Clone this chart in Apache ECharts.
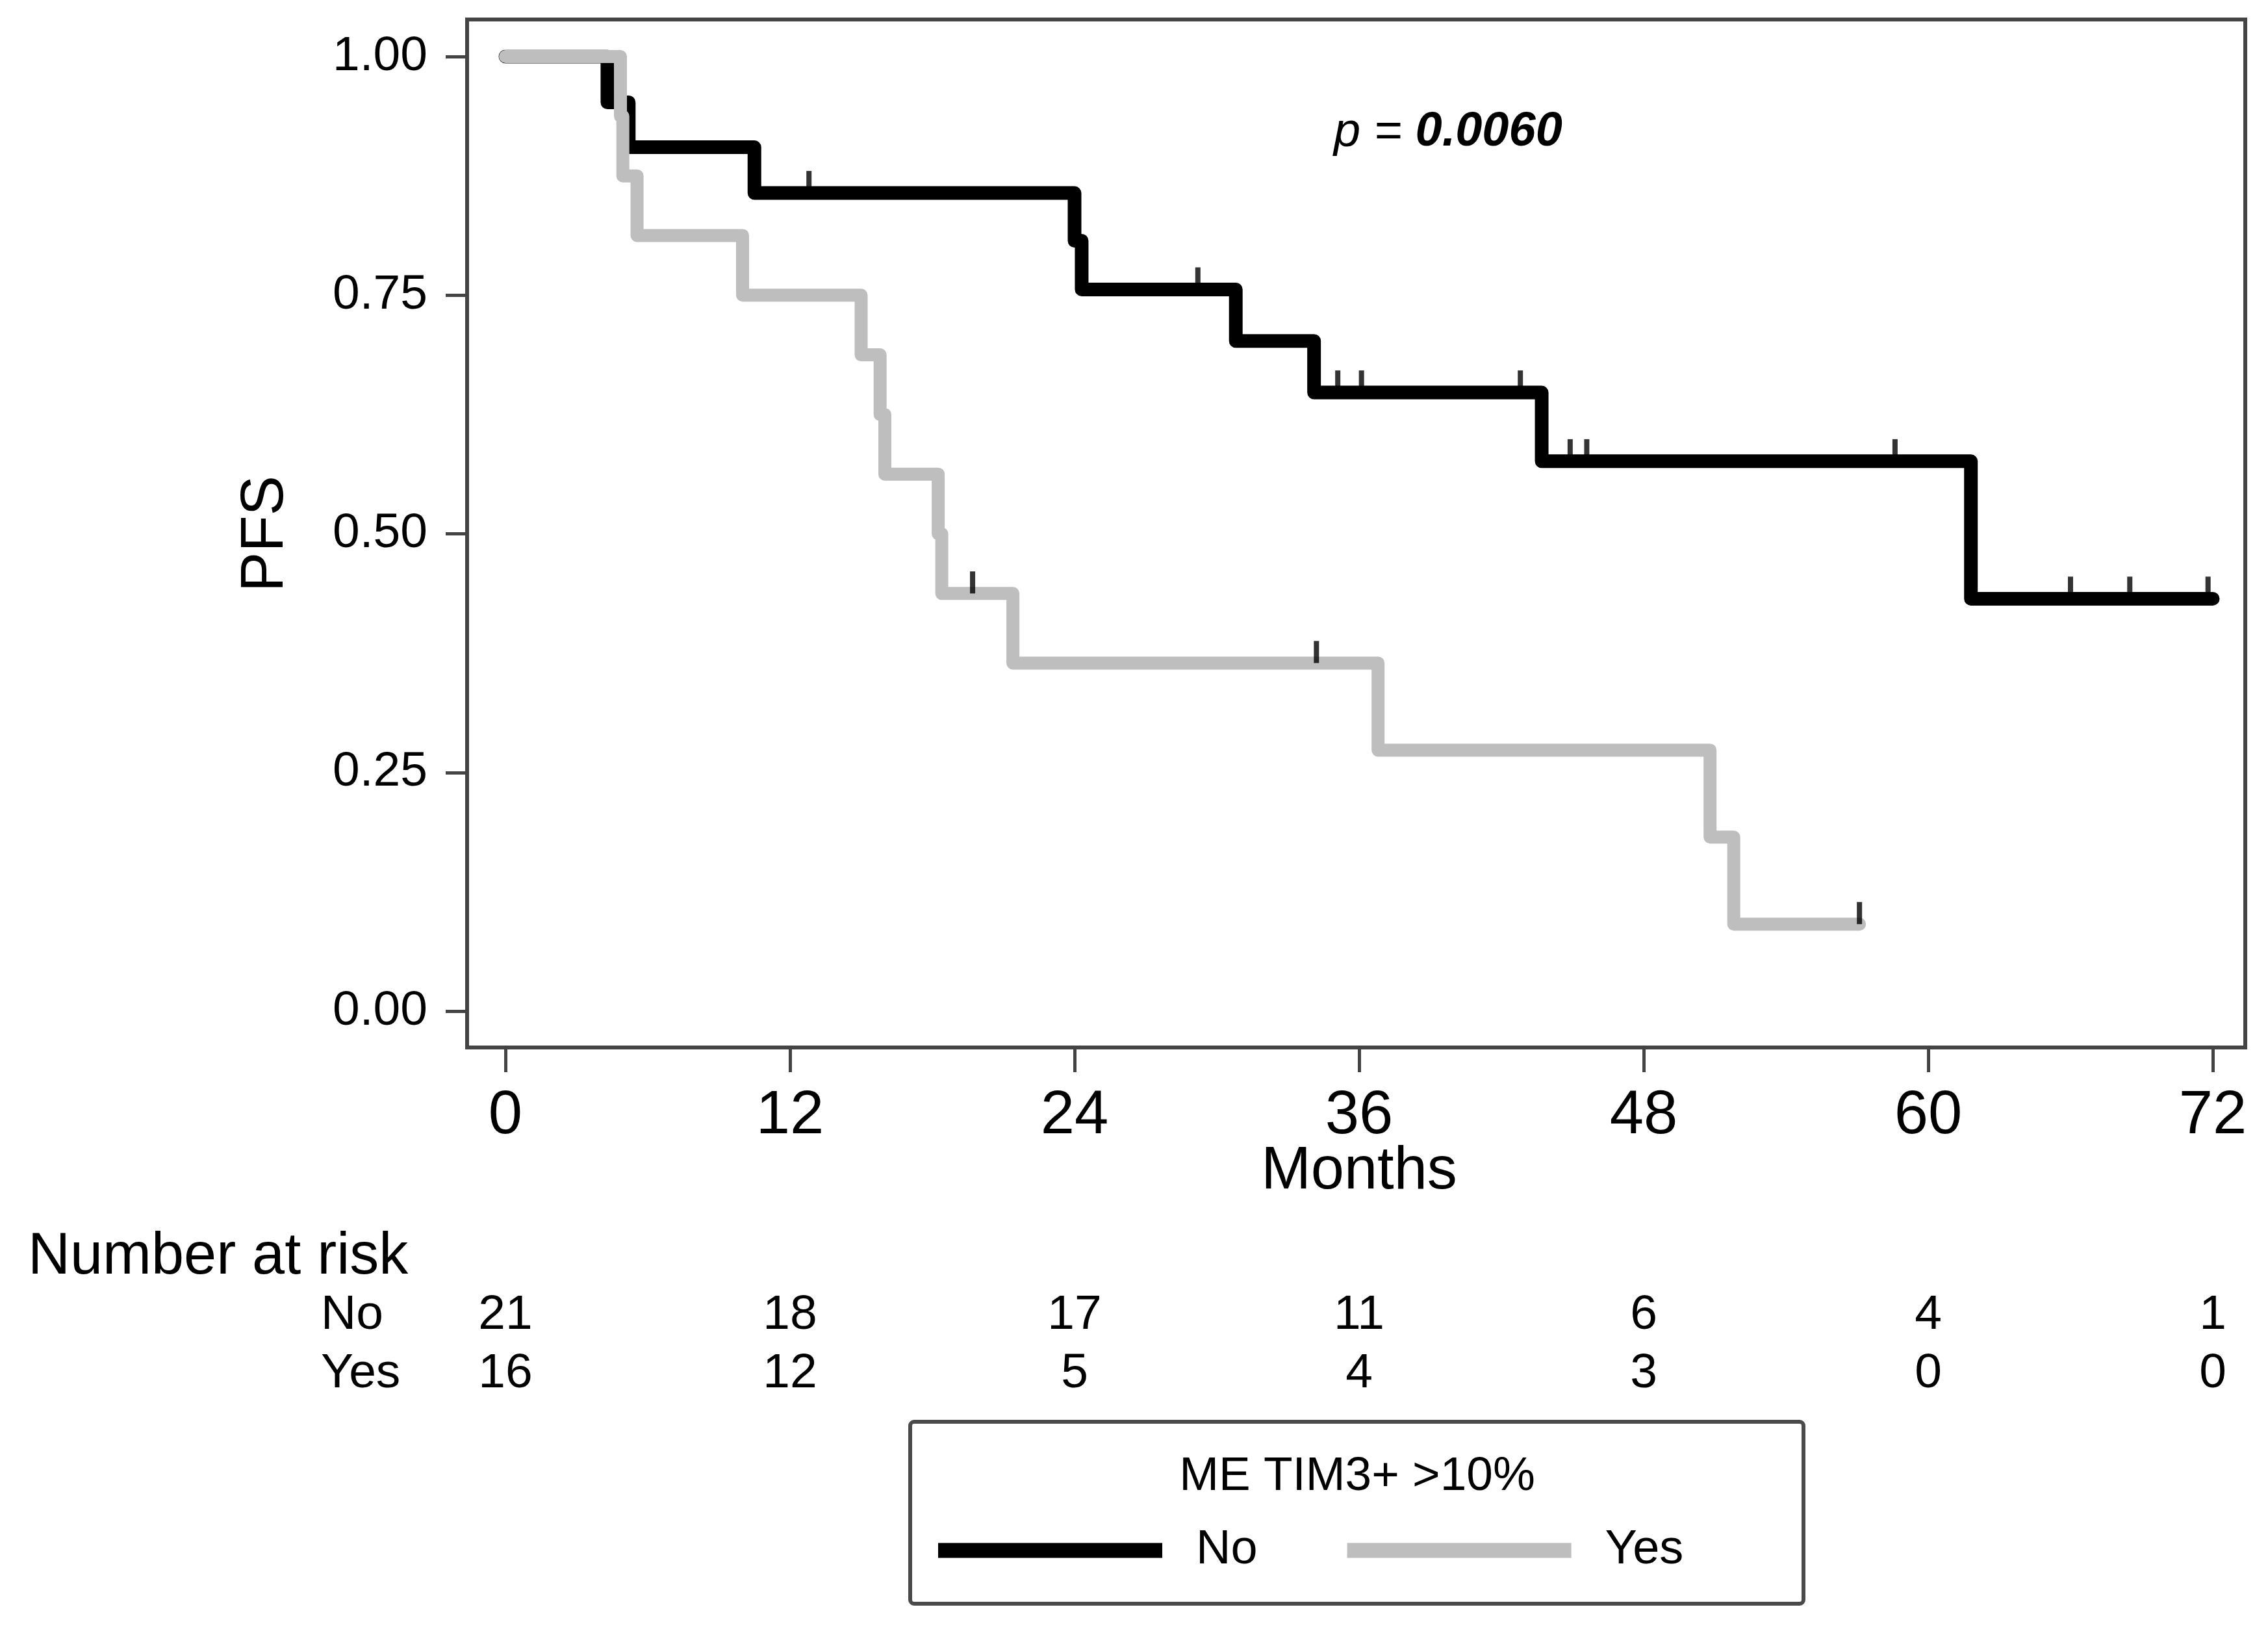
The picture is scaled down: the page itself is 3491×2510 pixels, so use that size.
<!DOCTYPE html>
<html><head><meta charset="utf-8">
<script src="https://cdn.jsdelivr.net/npm/echarts@6/dist/echarts.min.js"></script>
<style>html,body{margin:0;padding:0;background:#fff}#c{width:3491px;height:2510px}</style>
</head><body><div id="c"></div>
<script>
// ---- data ----
const xTicks = [0, 12, 24, 36, 48, 60, 72];
const groupNames = ['No', 'Yes'];
// Kaplan-Meier step points, group "No"
const noTimes = [0, 4.3, 5.2, 10.5, 24.0, 24.3, 30.8, 34.1, 43.7, 61.8, 72.0];
const noSurv  = [1.0, 0.952, 0.905, 0.857, 0.807, 0.756, 0.702, 0.648, 0.576, 0.432, 0.432];
const noCensorTimes = [12.8, 29.2, 35.1, 36.1, 42.8, 44.9, 45.6, 58.6, 66.0, 68.5, 71.8];
const noCensorSurv  = [0.857, 0.756, 0.648, 0.648, 0.648, 0.576, 0.576, 0.576, 0.432, 0.432, 0.432];
// group "Yes"
const yesTimes = [0, 4.85, 4.95, 5.55, 10.0, 15.0, 15.8, 16.0, 18.25, 18.4, 21.4, 36.8, 50.8, 51.8, 57.1];
const yesSurv  = [1.0, 0.9375, 0.875, 0.8125, 0.75, 0.6875, 0.625, 0.5625, 0.5, 0.4375, 0.3646, 0.2734, 0.1823, 0.0911, 0.0911];
const yesCensorTimes = [19.7, 34.2, 57.1];
const yesCensorSurv  = [0.4375, 0.3646, 0.0911];
// number at risk
const riskNo  = [21, 18, 17, 11, 6, 4, 1];
const riskYes = [16, 12, 5, 4, 3, 0, 0];
const pText = '0.0060';
const legendTitle = 'ME TIM3+ >10%';

// ---- chart ----
const FONT = '"Liberation Sans", Arial, sans-serif';
const chart = echarts.init(document.getElementById('c'), null, {renderer: 'canvas'});
const pair = (ts, ss) => ts.map((t, i) => [t, ss[i]]);
const censorSym = {type: 'scatter', symbol: 'rect', symbolSize: [8, 34], symbolOffset: [0, -17],
  itemStyle: {color: '#000'}, z: 5, silent: true};

chart.setOption({
  animation: false,
  backgroundColor: '#fff',
  grid: {left: 778, right: 85, top: 87, bottom: 954, containLabel: false},
  xAxis: {
    type: 'value', min: 0, max: 72, interval: 12, offset: 56,
    axisLine: {show: false, onZero: false},
    axisTick: {show: true, length: 38, lineStyle: {color: '#444', width: 5}},
    axisLabel: {margin: 59, fontSize: 94, color: '#000', fontFamily: FONT},
    splitLine: {show: false},
    name: 'Months', nameLocation: 'middle', nameGap: 146, nameMoveOverlap: false,
    nameTextStyle: {fontSize: 92, color: '#000', fontFamily: FONT}
  },
  yAxis: {
    type: 'value', min: 0, max: 1, interval: 0.25, offset: 59,
    axisLine: {show: false, onZero: false},
    axisTick: {show: true, length: 33, lineStyle: {color: '#444', width: 5}},
    axisLabel: {margin: 61, fontSize: 75, color: '#000', fontFamily: FONT,
      formatter: v => v.toFixed(2)},
    splitLine: {show: false},
    name: 'PFS', nameLocation: 'middle', nameGap: 263, nameMoveOverlap: false,
    nameTextStyle: {fontSize: 92, color: '#000', fontFamily: FONT}
  },
  legend: {
    data: groupNames, left: 1444, top: 2349, padding: 0, icon: 'rect',
    itemWidth: 345, itemHeight: 23, itemGap: 138,
    textStyle: {fontSize: 74, color: '#000', fontFamily: FONT, padding: [0, 0, 0, 47]}
  },
  series: [
    {name: 'No', type: 'line', step: 'end', showSymbol: false, color: '#000',
      data: pair(noTimes, noSurv), z: 2,
      lineStyle: {color: '#000', width: 21, cap: 'round', join: 'round'}},
    {name: 'Yes', type: 'line', step: 'end', showSymbol: false, color: '#bebebe',
      data: pair(yesTimes, yesSurv), z: 3,
      lineStyle: {color: '#bebebe', width: 20, cap: 'round', join: 'round'}},
    Object.assign({name: 'No censored', data: pair(noCensorTimes, noCensorSurv)}, censorSym),
    Object.assign({name: 'Yes censored', data: pair(yesCensorTimes, yesCensorSurv)}, censorSym)
  ]
});

// graphics: frame, p-value, risk table, legend box
const g = [];
g.push({type: 'rect', shape: {x: 719, y: 30, width: 3456 - 719, height: 1612 - 30},
  style: {fill: 'none', stroke: '#444', lineWidth: 6}, z: 1, silent: true});
g.push({type: 'text', left: 2053, top: 167, silent: true,
  style: {text: '{a|p = }{b|' + pText + '}', rich: {
    a: {fontSize: 74, fontStyle: 'italic', fontFamily: FONT, fill: '#000'},
    b: {fontSize: 74, fontStyle: 'italic', fontWeight: 'bold', fontFamily: FONT, fill: '#000'}}}});
g.push({type: 'text', x: 43, y: 1935, silent: true,
  style: {text: 'Number at risk', fontSize: 90, fontFamily: FONT, fill: '#000', align: 'left', verticalAlign: 'middle'}});
const rowY = [2024, 2114];
const rows = [riskNo, riskYes];
groupNames.forEach((nm, r) => {
  g.push({type: 'text', x: 494, y: rowY[r], silent: true,
    style: {text: nm, fontSize: 75, fontFamily: FONT, fill: '#000', align: 'left', verticalAlign: 'middle'}});
  xTicks.forEach((t, i) => {
    const px = chart.convertToPixel({xAxisIndex: 0}, t);
    g.push({type: 'text', x: px, y: rowY[r], silent: true,
      style: {text: String(rows[r][i]), fontSize: 75, fontFamily: FONT, fill: '#000', align: 'center', verticalAlign: 'middle'}});
  });
});
g.push({type: 'rect', shape: {x: 1401, y: 2188, width: 2776 - 1401, height: 2468 - 2188, r: 6},
  style: {fill: 'none', stroke: '#4a4a4a', lineWidth: 6}, silent: true});
g.push({type: 'text', x: 2089, y: 2273, silent: true,
  style: {text: legendTitle, fontSize: 73, fontFamily: FONT, fill: '#000', align: 'center', verticalAlign: 'middle'}});
chart.setOption({graphic: g});
</script></body></html>
